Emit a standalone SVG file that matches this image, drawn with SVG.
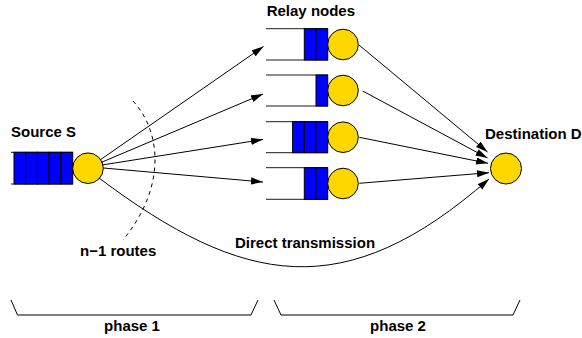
<svg xmlns="http://www.w3.org/2000/svg" width="582" height="338" viewBox="0 0 582 338">
<style>
text{font-family:"Liberation Sans",Arial,sans-serif;font-weight:bold;font-size:15px;fill:#000}
.node{fill:#ffd700;stroke:#000;stroke-width:1}
.cell{fill:#0000ff;stroke:#000;stroke-width:1}
.q{fill:none;stroke:#000;stroke-width:0.9}
.edge{fill:none;stroke:#000;stroke-width:1}
.dash{fill:none;stroke:#000;stroke-width:1;stroke-dasharray:4,4}
</style>
<defs>
<marker id="ah" markerUnits="userSpaceOnUse" markerWidth="13" markerHeight="8" refX="12" refY="3.6" orient="auto">
<path d="M0,0 L12,3.6 L0,7.2 z" fill="#000"/>
</marker>
</defs>
<rect width="582" height="338" fill="#fff"/>

<g id="source">
<path class="q" d="M11,152.3 H72.7 M11,184 H72.7"/>
<rect class="cell" x="14" y="152.3" width="11.7" height="31.7"/>
<rect class="cell" x="25.7" y="152.3" width="11.7" height="31.7"/>
<rect class="cell" x="37.4" y="152.3" width="11.7" height="31.7"/>
<rect class="cell" x="49.1" y="152.3" width="11.8" height="31.7"/>
<rect class="cell" x="60.9" y="152.3" width="11.8" height="31.7"/>
<circle class="node" cx="88" cy="168.2" r="15.3"/>
<text x="11" y="136.7">Source S</text>
</g>

<g id="relay1">
<path class="q" d="M266,28.7 H327.7 M266,60 H327.7"/>
<rect class="cell" x="304.3" y="28.7" width="11.7" height="31.3"/>
<rect class="cell" x="316" y="28.7" width="11.7" height="31.3"/>
<circle class="node" cx="343" cy="44.5" r="15.3"/>
</g>
<g id="relay2">
<path class="q" d="M266,75 H327.7 M266,106 H327.7"/>
<rect class="cell" x="316" y="75" width="11.7" height="31"/>
<circle class="node" cx="343" cy="90.5" r="15.3"/>
</g>
<g id="relay3">
<path class="q" d="M266,121.7 H327.7 M266,152.7 H327.7"/>
<rect class="cell" x="292.6" y="121.7" width="11.7" height="31"/>
<rect class="cell" x="304.3" y="121.7" width="11.7" height="31"/>
<rect class="cell" x="316" y="121.7" width="11.7" height="31"/>
<circle class="node" cx="343" cy="137.2" r="15.3"/>
</g>
<g id="relay4">
<path class="q" d="M266,167.7 H327.7 M266,199.3 H327.7"/>
<rect class="cell" x="304.3" y="167.7" width="11.7" height="31.6"/>
<rect class="cell" x="316" y="167.7" width="11.7" height="31.6"/>
<circle class="node" cx="343" cy="183.5" r="15.3"/>
</g>
<text x="266.7" y="16">Relay nodes</text>

<g id="destination">
<circle class="node" cx="506" cy="168.5" r="15.5"/>
<text x="485" y="139">Destination D</text>
</g>

<g id="connectors">
<path class="edge" marker-end="url(#ah)" d="M100,160 L263.5,46.5"/>
<path class="edge" marker-end="url(#ah)" d="M101,162.5 L263,94"/>
<path class="edge" marker-end="url(#ah)" d="M102,165 L263,139.5"/>
<path class="edge" marker-end="url(#ah)" d="M103.5,168 L263,182"/>
<path class="edge" marker-end="url(#ah)" d="M359,45 L487.5,152"/>
<path class="edge" marker-end="url(#ah)" d="M362.7,91 L487.5,158"/>
<path class="edge" marker-end="url(#ah)" d="M359.3,137.3 L488,163.3"/>
<path class="edge" marker-end="url(#ah)" d="M359.3,183.3 L489,172.7"/>
<path class="edge" marker-end="url(#ah)" d="M99,178 C244,286.75 345,305.2 489,179"/>
<path class="dash" d="M133,101 C160,130 168,185 123,240"/>
</g>

<text x="235" y="248.3">Direct transmission</text>
<text x="80" y="256">n−1 routes</text>

<g id="phases">
<path class="edge" d="M11,300 L17.5,315 H251 L258,300"/>
<path class="edge" d="M274,300 L281,315 H513 L520,300"/>
<text x="132" y="331" text-anchor="middle">phase 1</text>
<text x="398" y="331" text-anchor="middle">phase 2</text>
</g>
</svg>
